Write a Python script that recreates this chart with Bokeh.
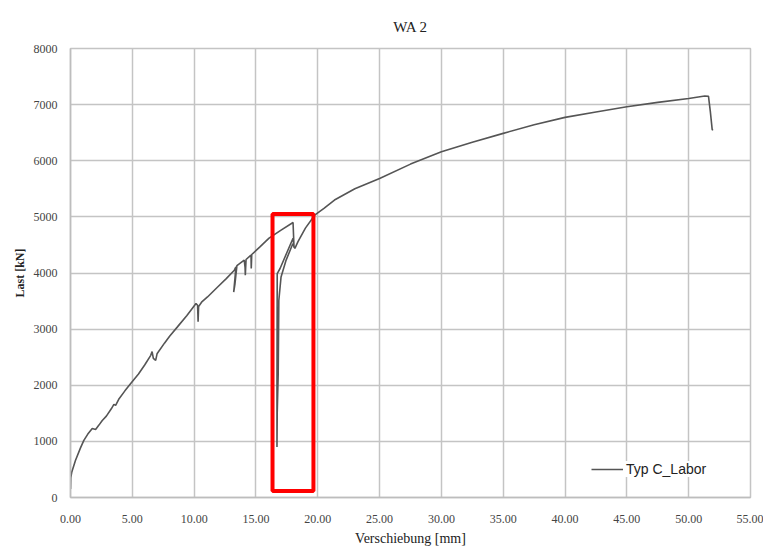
from bokeh.plotting import figure
from bokeh.models import (ColumnDataSource, Range1d, FixedTicker, NumeralTickFormatter,
                          Legend, LegendItem, BoxAnnotation, Title)
from bokeh.embed import file_html
from bokeh.resources import INLINE

# ---- data ----
displacement_mm = [
    0.0, 0.02, 0.1, 0.4, 0.8, 1.08, 1.4, 1.76, 2.03, 2.3, 2.57, 2.9, 3.3, 3.51, 3.65,
    3.9, 4.4, 4.87, 5.5, 6.0, 6.49, 6.6, 6.7, 6.89, 7.0, 7.6, 8.0, 8.65, 9.4, 10.15,
    10.28, 10.32, 10.36, 10.6, 11.08, 11.9, 12.6, 13.25, 13.38, 13.3, 13.2, 13.3, 13.46,
    13.7, 14.05, 14.12, 14.14, 14.2, 14.55, 14.6, 14.62, 14.66, 15.3, 16.06, 17.0,
    18.0, 18.08, 18.0, 16.95, 16.72, 16.7, 16.7, 16.72, 16.8, 16.85, 17.03, 17.44,
    17.98, 18.15, 18.4, 19.0, 19.75, 20.5, 21.35, 23.0, 25.0, 27.5, 30.0, 32.5, 35.0,
    37.5, 40.0, 42.5, 45.0, 47.5, 50.0, 51.3, 51.6, 51.75, 51.9, 51.95,
]
load_kN = [
    150, 350, 450, 660, 880, 1017, 1130, 1231, 1213, 1290, 1373, 1450, 1580, 1659, 1641,
    1750, 1900, 2030, 2200, 2360, 2533, 2600, 2480, 2444, 2560, 2750, 2870, 3040, 3240, 3455,
    3425, 3130, 3400, 3480, 3573, 3751, 3900, 4050, 4108, 3900, 3660, 3800, 4130,
    4170, 4228, 4100, 3960, 4240, 4310, 4318, 4080, 4330, 4460, 4620, 4760,
    4900, 4450, 4620, 4080, 3990, 2000, 900, 1500, 2200, 3510, 3930, 4230,
    4520, 4440, 4560, 4800, 5030, 5150, 5300, 5500, 5685, 5940, 6160, 6330, 6488,
    6640, 6773, 6870, 6962, 7040, 7110, 7155, 7150, 6880, 6560, 6540,
]
series_name = "Typ C_Labor"
title_text = "WA 2"
x_label = "Verschiebung [mm]"
y_label = "Last [kN]"
x_ticks = [0, 5, 10, 15, 20, 25, 30, 35, 40, 45, 50, 55]
y_ticks = [0, 1000, 2000, 3000, 4000, 5000, 6000, 7000, 8000]
# highlighted region (red frame)
highlight_x = [16.34, 19.65]
highlight_y = [116, 5053]

SERIF = "Liberation Serif"
SANS = "Liberation Sans"

p = figure(width=763, height=548, output_backend="svg", toolbar_location=None,
           x_range=Range1d(0, 55), y_range=Range1d(0, 8000),
           min_border_left=70, min_border_right=13, min_border_top=48,
           min_border_bottom=51, background_fill_color="white",
           border_fill_color="white")

p.title = Title(text=title_text, align="center", text_font=SERIF,
                text_font_size="15px", text_font_style="normal",
                text_color="#222222", standoff=24, vertical_align="top")

src = ColumnDataSource(dict(x=displacement_mm, y=load_kN))
r = p.line("x", "y", source=src, line_color="#555555", line_width=1.6)

p.add_layout(BoxAnnotation(left=highlight_x[0], right=highlight_x[1],
                           bottom=highlight_y[0], top=highlight_y[1],
                           fill_alpha=0, line_color="#ff0000", line_alpha=1.0,
                           line_width=4))

# axes
p.xaxis.ticker = FixedTicker(ticks=x_ticks)
p.yaxis.ticker = FixedTicker(ticks=y_ticks)
p.xaxis.formatter = NumeralTickFormatter(format="0.00")
p.yaxis.formatter = NumeralTickFormatter(format="0")
for ax in (p.xaxis, p.yaxis):
    ax.major_tick_line_color = None
    ax.minor_tick_line_color = None
    ax.axis_line_color = "#bdbdbd"
    ax.axis_line_width = 1.5
    ax.major_label_text_font = SERIF
    ax.major_label_text_font_size = "12px"
    ax.major_label_text_color = "#444444"
    ax.axis_label_text_font = SERIF
    ax.axis_label_text_color = "#222222"

p.xaxis.axis_label = x_label
p.xaxis.axis_label_text_font_size = "14px"
p.xaxis.axis_label_text_font_style = "normal"
p.xaxis.major_label_standoff = 11
p.xaxis.axis_label_standoff = 5

p.yaxis.axis_label = y_label
p.yaxis.axis_label_text_font_size = "12px"
p.yaxis.axis_label_text_font_style = "bold"
p.yaxis.major_label_standoff = 7
p.yaxis.axis_label_standoff = 4

p.xgrid.ticker = FixedTicker(ticks=x_ticks)
p.ygrid.ticker = FixedTicker(ticks=y_ticks)
for g in (p.xgrid, p.ygrid):
    g.grid_line_color = "#c4c4c4"
    g.grid_line_width = 1.5

p.outline_line_color = "#c4c4c4"
p.outline_line_width = 1.5

legend = Legend(items=[LegendItem(label=series_name, renderers=[r])],
                location=(521, 20), orientation="vertical",
                label_text_font=SANS, label_text_font_size="14px",
                label_text_color="#222222", glyph_width=32, glyph_height=14,
                border_line_color=None, background_fill_color="white",
                background_fill_alpha=1.0, padding=4, margin=0,
                label_standoff=3)
p.add_layout(legend)

open("out.html", "w").write(file_html(p, INLINE))
